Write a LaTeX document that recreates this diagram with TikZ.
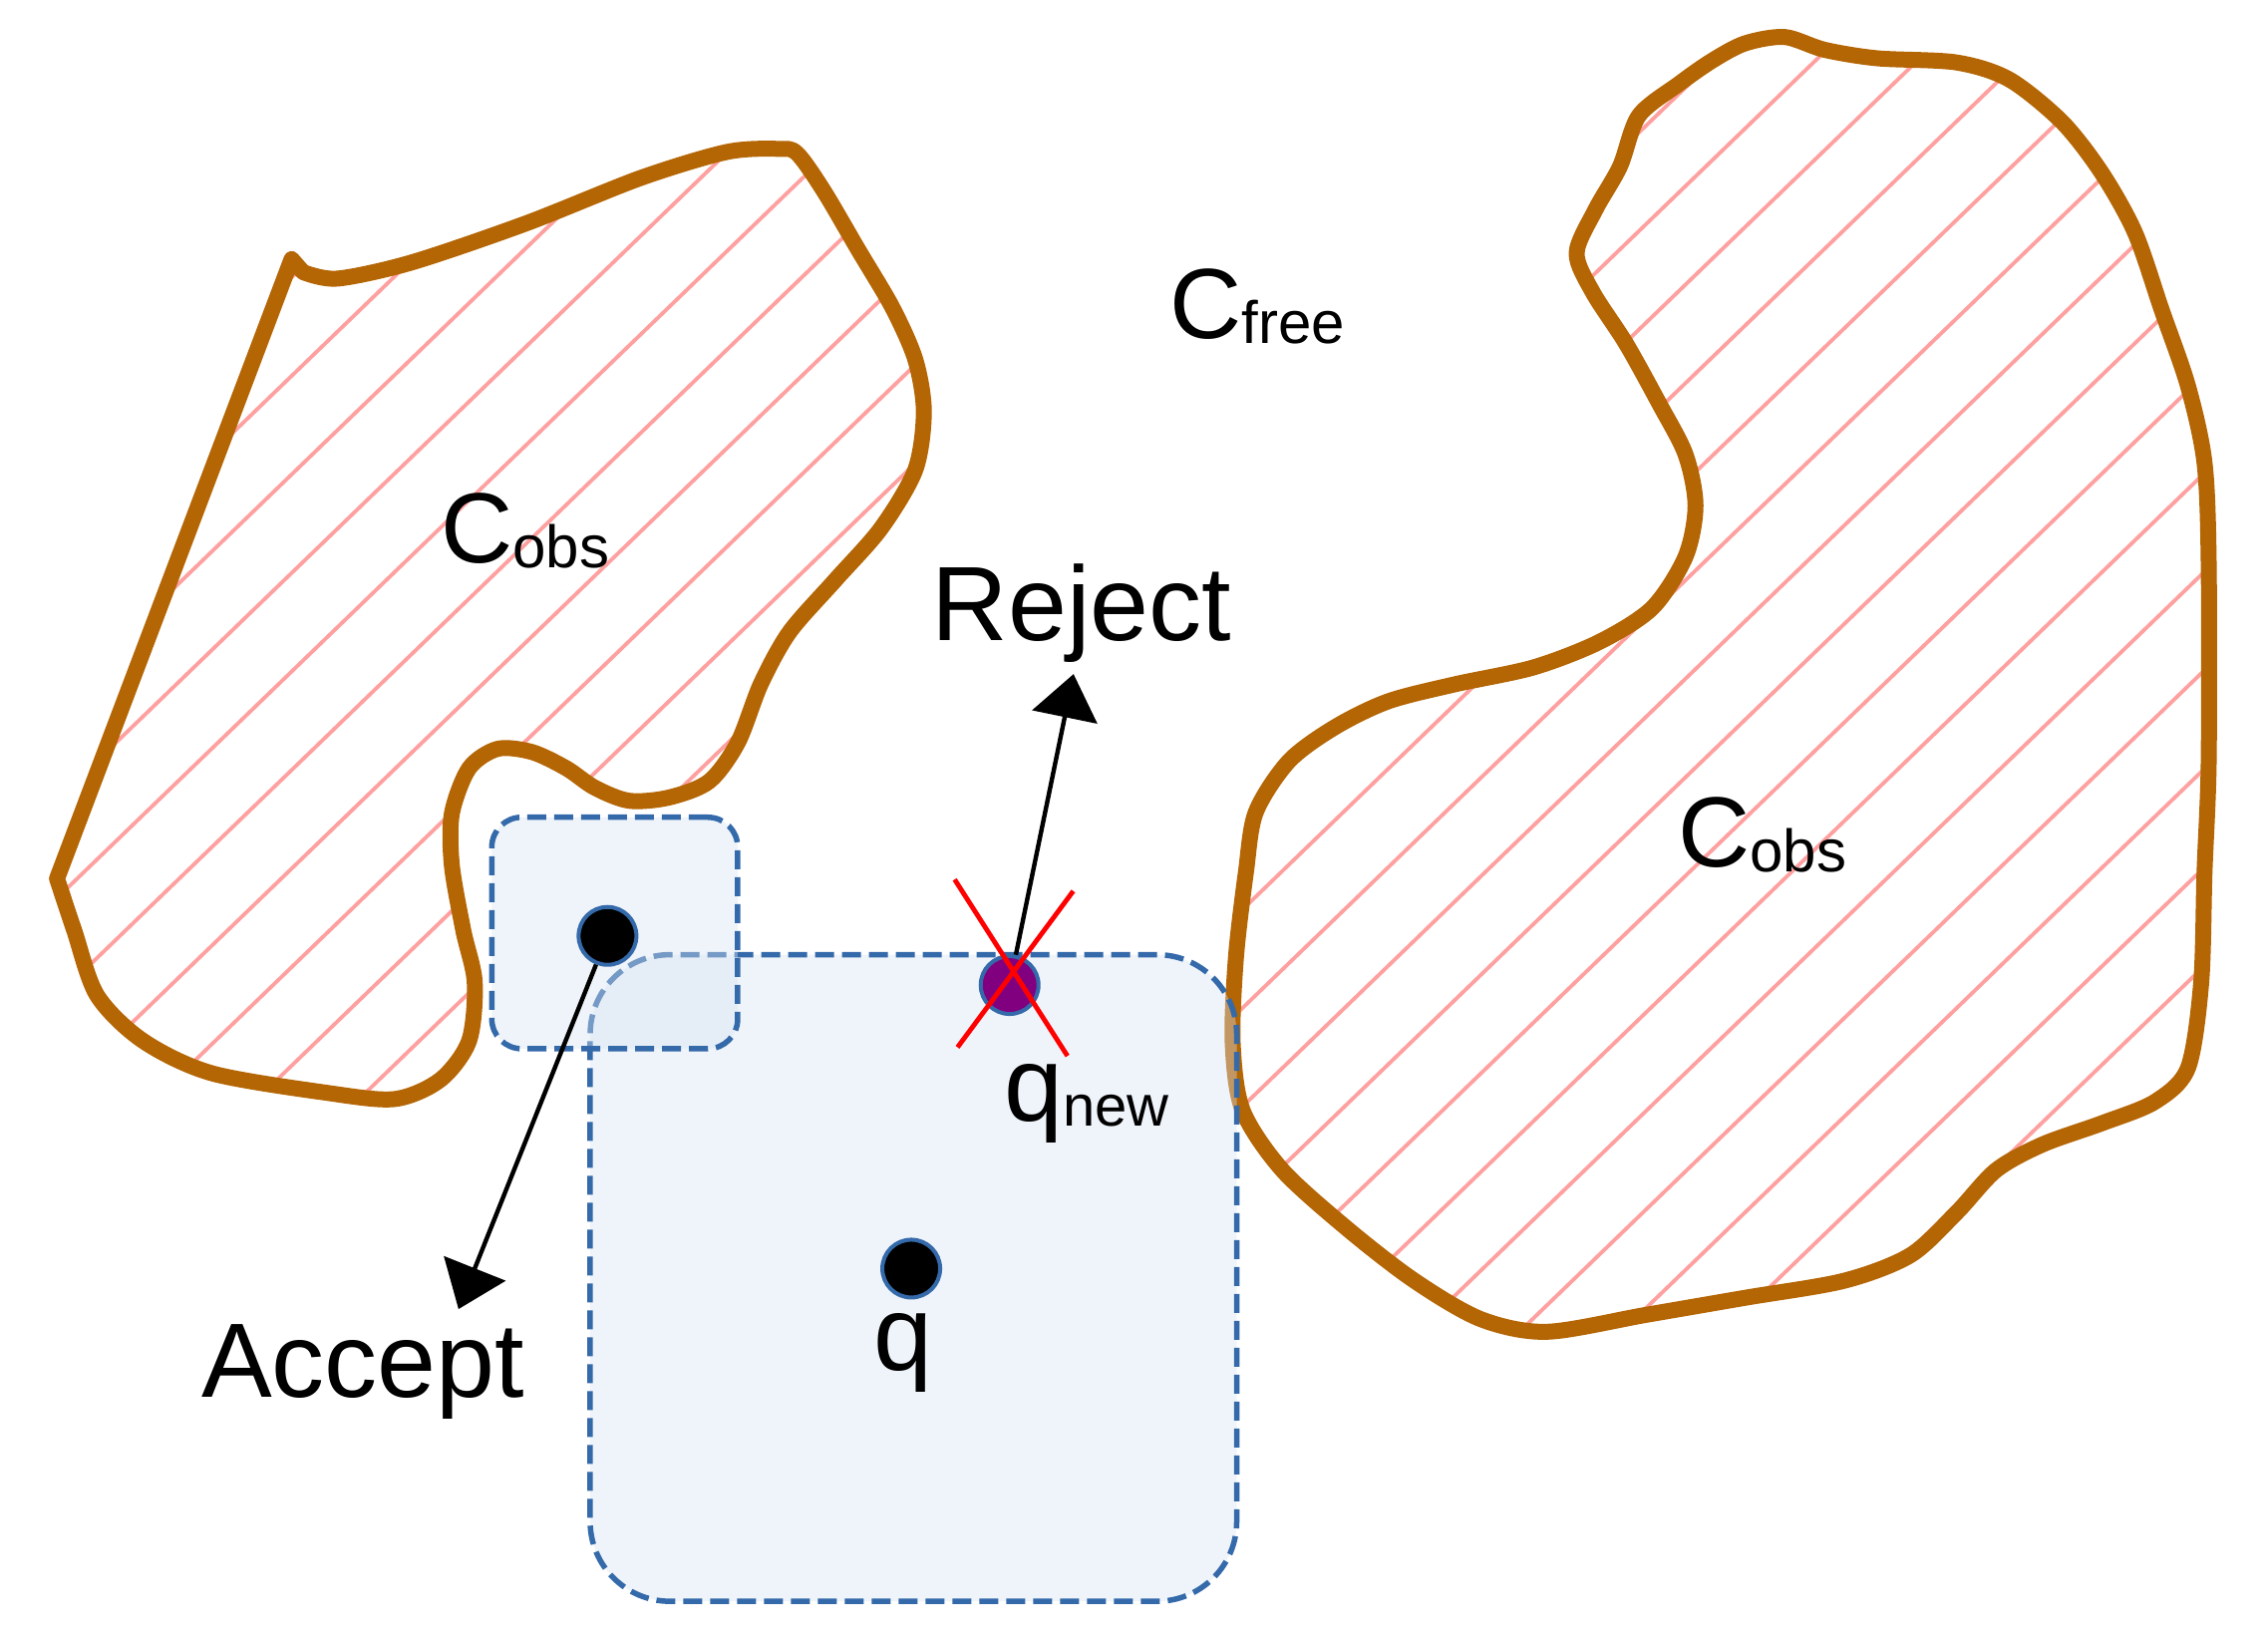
\documentclass[tikz,border=0pt]{standalone}
\usepackage{fontspec}
\setmainfont{Liberation Sans}
\usetikzlibrary{arrows.meta}
\definecolor{obsbrown}{HTML}{B46504}
\definecolor{hatchpink}{RGB}{255,160,160}
\definecolor{boxblue}{RGB}{52,105,170}
\definecolor{boxfill}{RGB}{215,228,242}
\definecolor{qpurple}{HTML}{800080}
\newcommand\myhatch[1]{%
  \foreach \k in {-3,...,40}{%
    \pgfmathsetmacro\cc{#1+49*\k}%
    \draw[hatchline] ({\cc*sin(44)+1600*cos(44)},{\cc*cos(44)-1600*sin(44)}) -- ({\cc*sin(44)-1600*cos(44)},{\cc*cos(44)+1600*sin(44)});
  }}
\begin{document}
\begin{tikzpicture}[x=1.451pt,y=-1.451pt,
  obsline/.style={draw=obsbrown, line width=16pt, line join=round},
  hatchline/.style={draw=hatchpink, line width=3.8pt},
  regionbox/.style={rectangle, draw=boxblue, line width=5.5pt, dash pattern=on 19pt off 8pt, fill=boxfill, fill opacity=0.4, inner sep=0},
  dotnode/.style={circle, draw=boxblue, line width=4pt, minimum size=58pt, inner sep=0},
  arr/.style={draw=black, line width=4.4pt, -{Triangle[length=44pt,width=66pt]}},
  crossline/.style={draw=red, line width=4.8pt},
  biglbl/.style={anchor=base west, inner sep=0, font=\fontsize{106}{110}\selectfont},
  clbl/.style={anchor=base west, inner sep=0, font=\fontsize{100}{100}\selectfont},
]
\useasboundingbox (0,0) rectangle (1568,1136);

% left obstacle
\path[save path=\leftobs] (201.6,179.1) -- plot[smooth, tension=0.5] coordinates {
 (209.5,188.1) (233.3,192.6) (284.7,181.4) (363.8,154.4) (443,123) (502.3,105.1)
 (537.9,102.9) (551,106) (569.5,132) (593.2,172.4) (617,212.7) (632.8,248.6)
 (638.7,284.5) (632.8,324.8) (609.1,365.2) (577.4,401.1) (545.8,437) (526,472.8)
 (510.2,513.2) (490.4,540.1) (462.7,551.3) (435,553.6) (411.3,544.6) (391.5,531.1)
 (367.8,519.9) (344,517.7) (324.3,531.1) (312.4,562.5) (312.4,598.3) (320.3,643.2)
 (328.2,679.1) (324.3,719.5) (304.5,746.4) (272.8,759.8) (225.4,755.4) (146.2,741.9)
 (98.8,719.5) (67.1,688.1) (51.3,643.2) (39.4,607.4)} -- cycle;
\begin{scope}
  \clip[use path=\leftobs];
  \myhatch{33}
\end{scope}
\draw[obsline, use path=\leftobs];

% right obstacle
\path[save path=\rightobs] plot[smooth cycle, tension=0.5] coordinates {
 (1233.9,25.6) (1261.3,34.4) (1297.8,40.3) (1352.7,43.2) (1389.2,55) (1425.8,84.5)
 (1453.2,119.8) (1476.1,161) (1494.4,214) (1512.7,267) (1524.1,320) (1527,390)
 (1527,526.2) (1524.1,602.7) (1521.8,679.3) (1512.7,738.2)
 (1489.8,761.7) (1453.2,776.5) (1412.1,791.2) (1380.1,808.9) (1352.7,838.3)
 (1320.7,867.8) (1275,885.4) (1206.4,897.2) (1137.9,909) (1069.3,920.7)
 (1023.6,911.9) (977.9,885.4) (932.2,850.1) (886.5,808.9) (859.1,767.6)
 (852.2,720.5) (854.5,661.6) (861.4,602.7) (868.2,561.5) (891.1,526.2)
 (923.1,502.6) (959.6,484.9) (1005.3,473.2) (1060.2,461.4) (1105.9,443.7)
 (1142.4,420.2) (1165.3,384.8) (1172.2,349.5) (1165.3,314.2) (1147,278.8)
 (1124.2,237.6) (1101.3,202.3) (1090,175) (1103,145) (1120,115)
 (1133,80) (1160.7,58) (1183.6,42) (1206.4,30)};
\begin{scope}
  \clip[use path=\rightobs];
  \myhatch{20}
\end{scope}
\draw[obsline, use path=\rightobs];

% regions
\node[regionbox, minimum width=648.6pt, minimum height=648.6pt, rounded corners=80pt] (bigbox) at (631.5,883.5) {};
\node[regionbox, minimum width=246.7pt, minimum height=232.2pt, rounded corners=30pt] (smallbox) at (425,645) {};

% points
\node[dotnode, fill=black] (pacc) at (420,647) {};
\node[dotnode, fill=black] (pq) at (630,877) {};
\node[dotnode, fill=qpurple] (pnew) at (698,681) {};

% arrows
\coordinate (acctip) at (317,905);
\coordinate (rejtip) at (742.2,466);
\draw[arr] (pacc) -- (acctip);
\draw[arr] (pnew) -- (rejtip);

% red cross
\draw[crossline] ([shift={(-38,-73)}]pnew.center) -- ([shift={(40,49)}]pnew.center);
\draw[crossline] ([shift={(44,-65)}]pnew.center) -- ([shift={(-36,43)}]pnew.center);

% labels
\node[biglbl] (lrej) at (644.2,442.5) {Reject};
\node[biglbl] (lacc) at (139.2,966.2) {Accept};
\node[biglbl] (lq) at (604,947) {q};
\node[biglbl] (lqnew) at (694,775) {q{\fontsize{58}{58}\selectfont\raisebox{-5pt}{new}}};
\node[clbl] (lobs1) at (304.6,389.4) {C{\fontsize{60}{60}\selectfont\raisebox{-5pt}{obs}}};
\node[clbl] (lobs2) at (1160,599) {C{\fontsize{60}{60}\selectfont\raisebox{-5pt}{obs}}};
\node[clbl] (lfree) at (808.6,234.3) {C{\fontsize{60}{60}\selectfont\raisebox{-5pt}{free}}};
\end{tikzpicture}
\end{document}
